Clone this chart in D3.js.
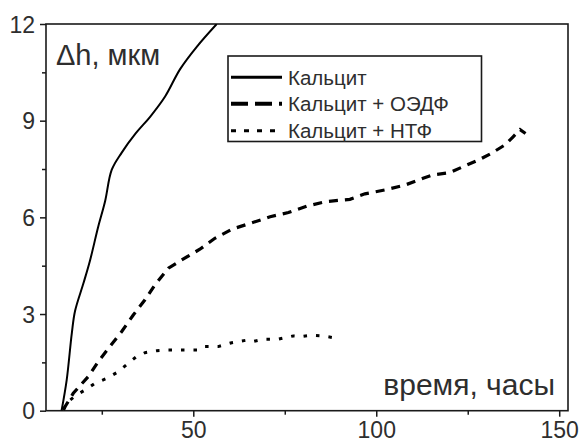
<!DOCTYPE html>
<html><head><meta charset="utf-8">
<script src="https://cdn.jsdelivr.net/npm/d3@7"></script>
<style>body{margin:0;background:#fff}svg{display:block}</style>
</head><body>
<svg id="c" width="580" height="443"></svg>
<script>
// Data
const seriesNames = ["Кальцит", "Кальцит + ОЭДФ", "Кальцит + НТФ"];
const calcite = [[14,0],[15.4,0.95],[16.8,2.4],[17.7,3.1],[20,3.96],[21.8,4.67],[24,5.7],[25.9,6.5],[27.7,7.47],[30.4,8.0],[34.3,8.61],[38.2,9.12],[42.3,9.75],[46.4,10.6],[51,11.3],[56.4,12]];
const calciteOEDF = [[14.5,0.04],[17.2,0.54],[21.3,1.06],[24,1.52],[27.2,1.99],[30.4,2.45],[33.6,2.97],[36.8,3.44],[39.5,3.9],[43.2,4.42],[46.8,4.68],[51.8,5.01],[55.9,5.35],[60.5,5.63],[66,5.83],[71,6.02],[76,6.15],[81,6.35],[86.4,6.49],[92.8,6.56],[96.9,6.73],[102.4,6.85],[107.8,7.0],[112.8,7.21],[115.6,7.32],[120.1,7.39],[123.3,7.55],[128.3,7.8],[131.5,7.99],[135.2,8.25],[137.4,8.5],[139.3,8.72],[140.8,8.6]];
const calciteNTF = [[14.5,0.02],[15.8,0.28],[18.1,0.49],[20.4,0.64],[23.1,0.85],[26.3,1.0],[29.5,1.21],[32.2,1.47],[34.5,1.68],[36.8,1.8],[40,1.86],[43.2,1.88],[47.3,1.88],[51.4,1.88],[53.2,1.99],[56.8,1.99],[60.5,2.11],[64.6,2.19],[66.4,2.15],[69.1,2.22],[73.2,2.22],[77.3,2.32],[79.2,2.3],[81.9,2.34],[85.5,2.32],[89.6,2.24]];
const xMajorTicks = [50, 100, 150];
const xMinorTicks = [25, 75, 125];
const yMajorTicks = [0, 3, 6, 9, 12];
const yMinorTicks = [1.5, 4.5, 7.5, 10.5];
const yLabel = "\u0394h, мкм";
const xLabel = "время, часы";

const svg = d3.select("#c");
const L = 46, R = 568, T = 24, B = 410.7;
const x = d3.scaleLinear().domain([9.75, 152.4]).range([L, R]);
const y = d3.scaleLinear().domain([0, 12]).range([B, T]);
const font = "'Liberation Sans', Arial, sans-serif";
const ink = "#1a1a1a";
const textCol = "#2e2e2e";

svg.append("clipPath").attr("id","clip").append("rect")
  .attr("x", L).attr("y", T).attr("width", R-L).attr("height", B-T);

// axes
const xAxis = svg.append("g").attr("transform", `translate(0,${B})`)
  .call(d3.axisBottom(x).tickValues(xMajorTicks).tickSize(6).tickPadding(4));
svg.append("g").attr("transform", `translate(0,${B})`)
  .call(d3.axisBottom(x).tickValues(xMinorTicks).tickSize(4).tickFormat(""));
const yAxis = svg.append("g").attr("transform", `translate(${L},0)`)
  .call(d3.axisLeft(y).tickValues(yMajorTicks).tickSize(6).tickPadding(5));
svg.append("g").attr("transform", `translate(${L},0)`)
  .call(d3.axisLeft(y).tickValues(yMinorTicks).tickSize(4).tickFormat(""));
svg.selectAll(".domain").remove();
svg.selectAll(".tick line").attr("stroke", ink).attr("stroke-width", 1.5);
svg.selectAll(".tick text").attr("font-family", font).attr("font-size", 23).attr("fill", textCol);
xAxis.selectAll(".tick text").attr("dy", "0.75em");
yAxis.selectAll(".tick text").attr("dy", "0.36em");

// frame
svg.append("rect").attr("x", L).attr("y", T).attr("width", R-L).attr("height", B-T)
  .attr("fill", "none").attr("stroke", ink).attr("stroke-width", 1.6);

const styles = [
  {data: calcite, w: 2, dash: null, curve: d3.curveCatmullRom, lw: 3, ldash: null},
  {data: calciteOEDF, w: 3.2, dash: "9,7", curve: d3.curveLinear, lw: 4, ldash: "17,7"},
  {data: calciteNTF, w: 3, dash: "3.5,9", curve: d3.curveLinear, lw: 3, ldash: "5,8"}
];
const g = svg.append("g").attr("clip-path", "url(#clip)");
styles.forEach(s => {
  const line = d3.line().curve(s.curve).x(d => x(d[0])).y(d => y(d[1]));
  g.append("path").datum(s.data).attr("d", line).attr("fill", "none")
    .attr("stroke", "#000").attr("stroke-width", s.w)
    .attr("stroke-dasharray", s.dash);
});

// legend
svg.append("rect").attr("x", 228).attr("y", 56).attr("width", 253.5).attr("height", 85.5)
  .attr("fill", "#fff").attr("stroke", ink).attr("stroke-width", 1.6);
const rowY = [77.3, 103.7, 130.8];
styles.forEach((s, i) => {
  svg.append("line").attr("x1", 231).attr("x2", 282).attr("y1", rowY[i]).attr("y2", rowY[i])
    .attr("stroke", "#000").attr("stroke-width", s.lw)
    .attr("stroke-dasharray", s.ldash);
  svg.append("text").attr("x", 288).attr("y", rowY[i] + 7.6).text(seriesNames[i])
    .attr("font-family", font).attr("font-size", 20.5).attr("fill", textCol);
});

// axis titles inside plot
svg.append("text").attr("x", 56).attr("y", 65).text(yLabel)
  .attr("font-family", font).attr("font-size", 29).attr("fill", textCol);
svg.append("text").attr("x", 555).attr("y", 395).attr("text-anchor", "end").text(xLabel)
  .attr("font-family", font).attr("font-size", 30).attr("fill", textCol);
</script>
</body></html>
